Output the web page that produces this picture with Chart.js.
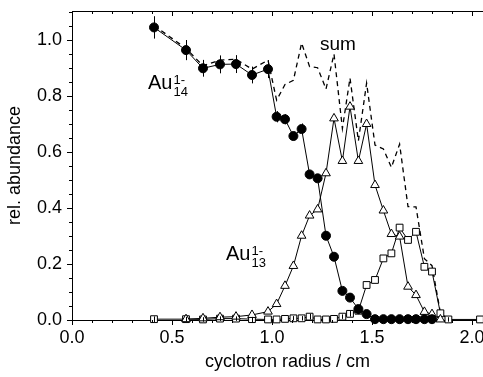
<!DOCTYPE html>
<html>
<head>
<meta charset="utf-8">
<script src="https://cdn.jsdelivr.net/npm/chart.js@4.4.0/dist/chart.umd.min.js"></script>
<style>
  body { margin: 0; background: #fff; }
</style>
</head>
<body>
<canvas id="abundanceChart" width="483" height="377"></canvas>
<script>
// cyclotron radius (cm) of each measurement step
const radius = [0.41, 0.57, 0.655, 0.74, 0.82, 0.90, 0.98, 1.023, 1.065, 1.107,
  1.148, 1.188, 1.228, 1.27, 1.31, 1.352, 1.39, 1.432, 1.473, 1.515,
  1.557, 1.597, 1.638, 1.68, 1.72, 1.762, 1.80, 1.842, 1.882, 2.04];

// Au14- (filled circles)
const au14 = [1.045, 0.964, 0.899, 0.913, 0.914, 0.875, 0.896, 0.726, 0.717, 0.657,
  0.682, 0.520, 0.506, 0.301, 0.226, 0.104, 0.080, 0.039, 0.021, 0.003,
  0.003, 0.003, 0.003, 0.003, 0.003, 0.003, 0.003, null, null, null];
const au14Err = [0.04, 0.036, 0.03, 0.032, 0.032, 0.03, 0.032, 0.02, 0.018, 0.015,
  0.02, 0, 0, 0, 0, 0, 0, 0, 0, 0, 0, 0, 0, 0, 0, 0, 0, 0, 0, 0];

// Au13- (open triangles)
const au13 = [null, 0.003, 0.006, 0.010, 0.012, 0.018, 0.030, 0.057, 0.122, 0.193,
  0.301, 0.373, 0.395, 0.524, 0.720, 0.568, 0.762, 0.568, 0.700, 0.482,
  0.391, 0.307, 0.298, 0.119, 0.089, 0.029, 0.021, 0.002, null, null];

// smaller cluster (open squares)
const squares = [0.003, 0.003, 0.002, 0.005, 0.005, 0.003, 0.002, 0.002, 0.004, 0.006,
  0.006, 0.012, 0.002, 0.002, 0.004, 0.012, 0.022, 0.033, 0.125, 0.143,
  0.220, 0.238, 0.330, 0.286, 0.315, 0.190, 0.173, 0.024, 0.002, 0.002];
const squaresErr = [0.01, 0.008, 0.008, 0.008, 0.008, 0.008, 0, 0, 0, 0.008,
  0.008, 0.01, 0, 0, 0, 0.008, 0.01, 0.012, 0, 0, 0, 0, 0, 0, 0, 0, 0, 0, 0.008, 0];

// sum (dashed)
const sum = [1.052, 0.970, 0.908, 0.928, 0.931, 0.896, 0.928, 0.785, 0.841, 0.856,
  0.989, 0.905, 0.901, 0.825, 0.950, 0.684, 0.864, 0.640, 0.846, 0.625,
  0.611, 0.545, 0.628, 0.405, 0.404, 0.219, 0.194, 0.026, 0.002, null];

const xTicks = [0, 0.5, 1.0, 1.5, 2.0];
const yTicks = [0, 0.2, 0.4, 0.6, 0.8, 1.0];

const FONT = '"Liberation Sans", Arial, sans-serif';
Chart.defaults.font.family = FONT;
Chart.defaults.color = '#000';

function points(values, errs) {
  return radius
    .map((x, i) => values[i] == null ? null : { x, y: values[i], err: errs ? errs[i] : 0 })
    .filter(Boolean);
}

// minor ticks + top frame line
const frameTicks = {
  id: 'frameTicks',
  afterDraw(chart) {
    const { ctx, chartArea: a, scales: { x, y } } = chart;
    ctx.save();
    ctx.strokeStyle = '#000';
    ctx.lineWidth = 1;
    ctx.beginPath();
    for (let i = 0; i <= 21; i++) {
      const px = Math.round(x.getPixelForValue(i / 10)) + 0.5;
      if (px > a.right) break;
      const len = i % 5 === 0 ? 5 : 3;
      ctx.moveTo(px, a.bottom);
      ctx.lineTo(px, a.bottom + len);
      ctx.moveTo(px, a.top);
      ctx.lineTo(px, a.top + len);
    }
    for (let i = 0; i <= 22; i++) {
      const py = Math.round(y.getPixelForValue(i * 0.05)) + 0.5;
      if (py < a.top) break;
      const len = i % 4 === 0 ? 5 : 3;
      ctx.moveTo(a.left, py);
      ctx.lineTo(a.left - len, py);
    }
    ctx.moveTo(a.left, a.top + 0.5);
    ctx.lineTo(a.right, a.top + 0.5);
    ctx.stroke();
    ctx.restore();
  }
};

// vertical error bars
const errorBars = {
  id: 'errorBars',
  afterDatasetsDraw(chart) {
    const { ctx, scales: { x, y } } = chart;
    ctx.save();
    ctx.strokeStyle = '#000';
    ctx.lineWidth = 1;
    chart.data.datasets.forEach(ds => {
      ds.data.forEach(p => {
        if (!p.err) return;
        const px = Math.round(x.getPixelForValue(p.x)) + 0.5;
        ctx.beginPath();
        ctx.moveTo(px, y.getPixelForValue(p.y - p.err));
        ctx.lineTo(px, y.getPixelForValue(p.y + p.err));
        ctx.stroke();
      });
    });
    ctx.restore();
  }
};

// series labels inside the plot
const seriesLabels = {
  id: 'seriesLabels',
  afterDraw(chart) {
    const { ctx, scales: { x, y } } = chart;
    ctx.save();
    ctx.fillStyle = '#000';
    ctx.textBaseline = 'alphabetic';
    ctx.font = '19px ' + FONT;
    ctx.fillText('sum', x.getPixelForValue(1.24), y.getPixelForValue(0.964));
    const ion = (n, vx, vy) => {
      const px = x.getPixelForValue(vx), py = y.getPixelForValue(vy);
      ctx.font = '20px ' + FONT;
      ctx.fillText('Au', px, py);
      const w = ctx.measureText('Au').width;
      ctx.font = '13px ' + FONT;
      ctx.fillText('1-', px + w + 1, py - 5);
      ctx.fillText(n, px + w + 1, py + 7);
    };
    ion('14', 0.38, 0.825);
    ion('13', 0.77, 0.214);
    ctx.restore();
  }
};

const ctx = document.getElementById('abundanceChart').getContext('2d');

new Chart(ctx, {
  type: 'scatter',
  data: {
    datasets: [
      {
        label: 'Au14',
        data: points(au14, au14Err),
        showLine: true,
        borderColor: '#000',
        borderWidth: 1,
        pointStyle: 'circle',
        pointRadius: 4.5,
        pointBackgroundColor: '#000',
        pointBorderColor: '#000',
        clip: false
      },
      {
        label: 'Au13',
        data: points(au13),
        showLine: true,
        borderColor: '#000',
        borderWidth: 1,
        pointStyle: 'triangle',
        pointRadius: 5,
        pointBackgroundColor: '#fff',
        pointBorderColor: '#000',
        pointBorderWidth: 1,
        clip: false
      },
      {
        label: 'squares',
        data: points(squares, squaresErr),
        showLine: true,
        borderColor: '#000',
        borderWidth: 1,
        pointStyle: 'rect',
        pointRadius: 4.8,
        pointBackgroundColor: '#fff',
        pointBorderColor: '#000',
        pointBorderWidth: 1,
        clip: false
      },
      {
        label: 'sum',
        data: points(sum),
        showLine: true,
        borderColor: '#000',
        borderWidth: 1.3,
        borderDash: [5, 4],
        pointRadius: 0,
        clip: false
      }
    ]
  },
  options: {
    responsive: false,
    animation: false,
    layout: { autoPadding: false, padding: { top: 11, right: 0, bottom: 0, left: 0 } },
    plugins: {
      legend: { display: false },
      tooltip: { enabled: false }
    },
    scales: {
      x: {
        type: 'linear',
        min: 0,
        max: 2.055,
        afterBuildTicks: s => { s.ticks = xTicks.map(v => ({ value: v })); },
        ticks: { callback: v => v.toFixed(1), font: { size: 18 }, padding: 7, maxRotation: 0, autoSkip: false },
        grid: { display: false, drawTicks: false },
        border: { display: true, color: '#000', width: 1 },
        title: { display: true, text: '    cyclotron radius / cm', font: { size: 18 }, padding: { top: 0, bottom: 4 } },
        afterFit: s => { s.height = 57; s.paddingLeft = 0; s.paddingRight = 0; }
      },
      y: {
        type: 'linear',
        min: 0,
        max: 1.1036,
        afterBuildTicks: s => { s.ticks = yTicks.map(v => ({ value: v })); },
        ticks: { callback: v => v.toFixed(1), font: { size: 18 }, padding: 10 },
        grid: { display: false, drawTicks: false },
        border: { display: true, color: '#000', width: 1 },
        title: { display: true, text: 'rel. abundance', font: { size: 18 }, padding: { top: 4, bottom: 0 } },
        afterFit: s => { s.width = 72; s.paddingTop = 0; s.paddingBottom = 0; }
      }
    }
  },
  plugins: [frameTicks, errorBars, seriesLabels]
});
</script>
</body>
</html>
